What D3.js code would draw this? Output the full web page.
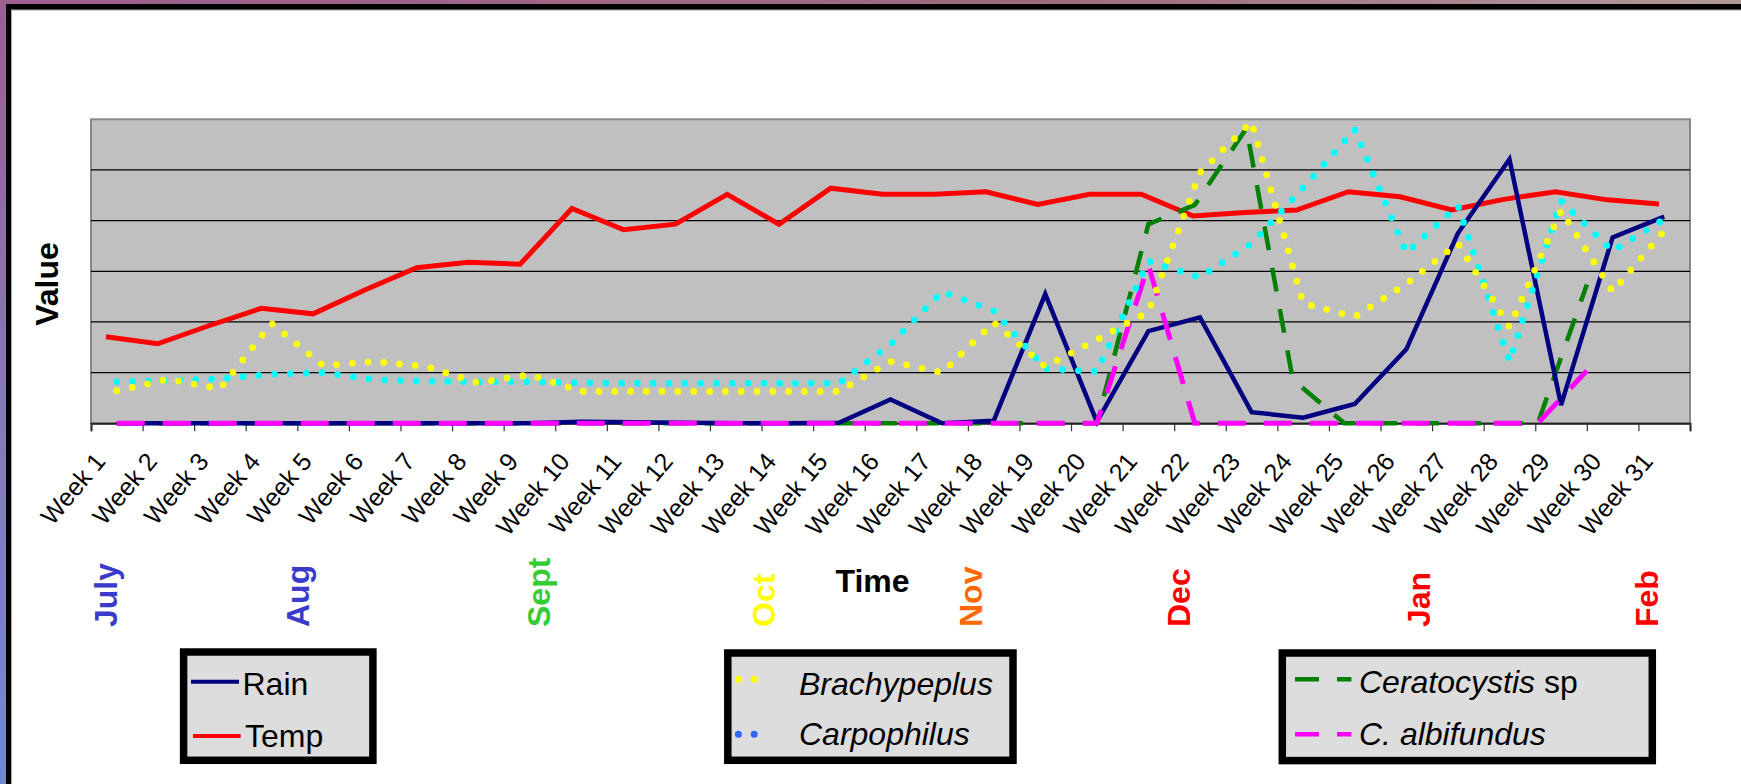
<!DOCTYPE html>
<html><head><meta charset="utf-8">
<script src="https://cdn.jsdelivr.net/npm/d3@7"></script>
<style>html,body{margin:0;padding:0;overflow:hidden;background:#fff}</style>
</head><body>
<svg id="chart" width="1741" height="784"></svg>
<script>
// ---------------- data ----------------
const weeks = ["Week 1","Week 2","Week 3","Week 4","Week 5","Week 6","Week 7","Week 8","Week 9","Week 10",
  "Week 11","Week 12","Week 13","Week 14","Week 15","Week 16","Week 17","Week 18","Week 19","Week 20",
  "Week 21","Week 22","Week 23","Week 24","Week 25","Week 26","Week 27","Week 28","Week 29","Week 30","Week 31"];
const rain = [0,0,0,0,0,0,0,0,0,0.15,0.1,0.05,0,0,0.05,2.35,0,0.25,12.75,0.15,9.1,10.45,1.1,0.55,1.9,7.3,18.75,26.05,1.8,18.35,20.4];
const temp = [8.55,7.85,9.65,11.35,10.8,13.15,15.35,15.9,15.7,21.2,19.1,19.65,22.6,19.65,23.2,22.6,22.6,22.85,21.6,22.6,22.6,20.45,20.8,21.05,22.85,22.35,21.05,22.1,22.85,22.05,21.65];
const brachypeplus = [3.2,4.35,3.4,9.85,5.7,6.1,5.6,4.0,4.8,3.15,3.15,3.15,3.15,3.15,3.15,6.1,5.0,9.95,5.6,8.25,11.0,24.75,29.75,11.85,10.5,13.75,17.75,9.5,21.0,13.0,19.0];
const carpophilus = [4.1,4.2,4.4,4.85,5.0,4.3,4.15,4.1,4.1,4.0,3.95,3.95,3.95,3.95,3.95,7.8,13.0,11.1,5.4,5.1,16.0,14.4,17.75,23.25,29.0,16.8,21.5,6.1,21.95,17.0,20.15];
// fungal samples (sampling time in weeks)
const fungiWeek = [1,2,3,4,5,6,7,8,9,10,11,12,13,14,15,16,17,18,19,20,21,21.9,22.9,23.8,24.8,25.7,26.6,27.6,28.55,29.5];
const ceratocystis = [0,0,0,0,0,0,0,0,0,0,0,0,0,0,0,0,0,0,0,0,19.65,21.55,29.1,4.3,0,0,0,0,0,13.7];
const albifundus = [0,0,0,0,0,0,0,0,0,0,0,0,0,0,0,0,0,0,0,0,15.6,0,0,0,0,0,0,0,0,5.2];
const months = ["July","Aug","Sept","Oct","Nov","Dec","Jan","Feb"];
const monthWeek = [1,4.73,9.4,13.76,17.77,21.8,26.45,30.87];
const yTicks = [0,5,10,15,20,25,30];

// ---------------- styles ----------------
const monthColor = {July:"#3a3acc",Aug:"#3a3acc",Sept:"#33cc33",Oct:"#ffff00",Nov:"#ff6a00",Dec:"#ff0000",Jan:"#ff0000",Feb:"#ff0000"};
const FONT = "'Liberation Sans', Arial, sans-serif";

const svg = d3.select("#chart");
const defs = svg.append("defs");
const gT = defs.append("linearGradient").attr("id","gTop").attr("x1",0).attr("x2",1).attr("y1",0).attr("y2",0);
gT.append("stop").attr("offset","0%").attr("stop-color","#9c5f90");
gT.append("stop").attr("offset","60%").attr("stop-color","#a06a80");
gT.append("stop").attr("offset","100%").attr("stop-color","#b09a98");
const gL = defs.append("linearGradient").attr("id","gLeft").attr("x1",0).attr("x2",0).attr("y1",0).attr("y2",1);
gL.append("stop").attr("offset","0%").attr("stop-color","#9c5f90");
gL.append("stop").attr("offset","50%").attr("stop-color","#8878b8");
gL.append("stop").attr("offset","100%").attr("stop-color","#7088cc");

// frame
svg.append("rect").attr("x",0).attr("y",0).attr("width",1741).attr("height",784).attr("fill","url(#gLeft)");
svg.append("rect").attr("x",0).attr("y",0).attr("width",1741).attr("height",5).attr("fill","url(#gTop)");
svg.append("rect").attr("x",6).attr("y",4).attr("width",1741).attr("height",790).attr("fill","#000");
svg.append("rect").attr("x",11.5).attr("y",10).attr("width",1741).attr("height",790).attr("fill","#fff").attr("stroke","#aaa").attr("stroke-width",1);

// ---------------- scales ----------------
const L = 91, R = 1690, T = 119.3, B = 423.3;
const xBand = d3.scaleBand().domain(weeks).range([L, R]).padding(0);
const xc = w => xBand(w) + xBand.bandwidth() / 2;
const xWeek = d3.scaleLinear().domain([1, 31]).range([xc(weeks[0]), xc(weeks[30])]);
const xTemp = d3.scalePoint().domain(weeks).range([106, 1659]);
const y = d3.scaleLinear().domain([0, 30]).range([B, T]);

// plot area
svg.append("rect").attr("x",L).attr("y",T).attr("width",R-L).attr("height",B-T)
  .attr("fill","#c0c0c0").attr("stroke","#888").attr("stroke-width",2);
svg.append("g").selectAll("line").data(yTicks.slice(1,-1)).join("line")
  .attr("x1",L).attr("x2",R).attr("y1",d=>y(d)).attr("y2",d=>y(d))
  .attr("stroke","#000").attr("stroke-width",1.3);

// x axis (ticks between categories)
const tickScale = d3.scaleLinear().domain([0, weeks.length]).range([L, R]);
const ax = svg.append("g").attr("transform",`translate(0,${B})`)
  .call(d3.axisBottom(tickScale).tickValues(d3.range(0, weeks.length + 1)).tickSize(8).tickFormat(""));
ax.select(".domain").attr("stroke","#222").attr("stroke-width",2);
ax.selectAll(".tick line").attr("stroke","#333").attr("stroke-width",1.2);

// week labels
svg.append("g").selectAll("text").data(weeks).join("text")
  .attr("transform", d => `translate(${xc(d) - 10},462) rotate(-50)`)
  .attr("text-anchor","end").attr("font-family",FONT).attr("font-size",25).attr("fill","#000")
  .text(d => d);

// ---------------- series ----------------
const mk = (xs, vals) => vals.map((v, i) => ({x: xs[i], v}));
const lineGen = xf => d3.line().x(d => xf(d.x)).y(d => y(d.v));
const series = [
  {data: mk(weeks, temp), xf: xTemp, color:"#ff0000", w:5},
  {data: mk(fungiWeek, ceratocystis), xf: xWeek, color:"#008000", w:4.5, dash:"24 18"},
  {data: mk(weeks, rain), xf: xc, color:"#000080", w:4.5},
  {data: mk(fungiWeek, albifundus), xf: xWeek, color:"#ff00ff", w:5, dash:"28 18"},
  {data: mk(weeks, carpophilus), xf: xc, color:"#00ffff", w:6.7, dash:"0 15.8", cap:"round"},
  {data: mk(weeks, brachypeplus), xf: xc, color:"#ffff00", w:6.7, dash:"0 15.8", cap:"round"}
];
svg.append("g").selectAll("path").data(series).join("path")
  .attr("d", s => lineGen(s.xf)(s.data))
  .attr("fill","none").attr("stroke", s => s.color).attr("stroke-width", s => s.w)
  .attr("stroke-dasharray", s => s.dash || null)
  .attr("stroke-linecap", s => s.cap || "butt")
  .attr("stroke-linejoin","miter");

// axis titles
svg.append("text").attr("transform","translate(58,284) rotate(-90)").attr("text-anchor","middle")
  .attr("font-family",FONT).attr("font-weight","bold").attr("font-size",32).text("Value");
svg.append("text").attr("x",872.5).attr("y",592).attr("text-anchor","middle")
  .attr("font-family",FONT).attr("font-weight","bold").attr("font-size",32).text("Time");

// month labels
svg.append("g").selectAll("text").data(months).join("text")
  .attr("transform", (d,i) => `translate(${xWeek(monthWeek[i])},627) rotate(-90)`)
  .attr("text-anchor","start").attr("font-family",FONT).attr("font-weight","bold").attr("font-size",32)
  .attr("fill", d => monthColor[d]).text(d => d);

// ---------------- legends ----------------
const legends = [
  {box:[183.6,652,189.3,108.3], items:[
    {parts:[["Rain",false]], color:"#000080", w:4, sx:[191,239], sy:681.7, ty:694.5, tx:242.5},
    {parts:[["Temp",false]], color:"#ff0000", w:4, sx:[193,240.7], sy:736, ty:746.5, tx:245}]},
  {box:[727.8,653,285.2,107.3], items:[
    {parts:[["Brachypeplus",true]], color:"#ffff00", w:7, dash:"0 15.8", cap:"round", sx:[738.4,770], sy:679.3, ty:694.5, tx:799},
    {parts:[["Carpophilus",true]], color:"#3366ff", w:7, dash:"0 15.8", cap:"round", sx:[738.4,770], sy:734.3, ty:745, tx:799}]},
  {box:[1282.3,653,370,107.6], items:[
    {parts:[["Ceratocystis",true],[" sp",false]], color:"#008000", w:4.5, dash:"24 18", sx:[1295,1351.4], sy:679.3, ty:693, tx:1359},
    {parts:[["C. albifundus",true]], color:"#ff00ff", w:4.5, dash:"24 18", sx:[1295,1351.4], sy:734.3, ty:745, tx:1359}]}
];
legends.forEach(lg => {
  const g = svg.append("g");
  g.append("rect").attr("x",lg.box[0]).attr("y",lg.box[1]).attr("width",lg.box[2]).attr("height",lg.box[3])
    .attr("fill","#dddddd").attr("stroke","#000").attr("stroke-width",7.5);
  lg.items.forEach(it => {
    g.append("line").attr("x1",it.sx[0]).attr("x2",it.sx[1]).attr("y1",it.sy).attr("y2",it.sy)
      .attr("stroke",it.color).attr("stroke-width",it.w)
      .attr("stroke-dasharray",it.dash || null).attr("stroke-linecap",it.cap || "butt");
    const t = g.append("text").attr("x",it.tx).attr("y",it.ty).attr("font-family",FONT).attr("font-size",32).attr("fill","#000");
    it.parts.forEach(p => t.append("tspan").attr("font-style", p[1] ? "italic" : "normal").text(p[0]));
  });
});
</script>
</body></html>
